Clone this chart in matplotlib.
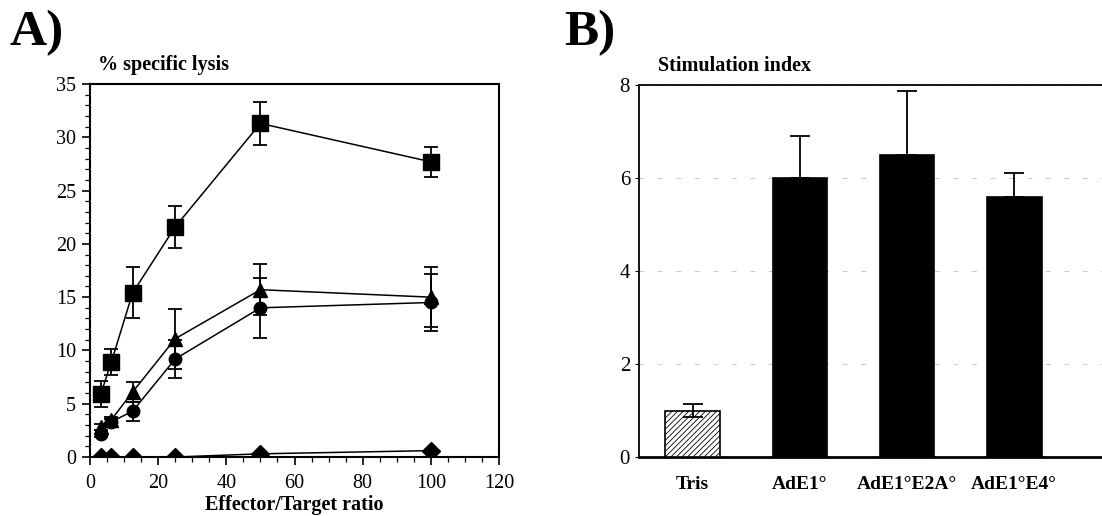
import numpy as np
import matplotlib
matplotlib.use("Agg")
import matplotlib.pyplot as plt

plt.rcParams['font.family'] = ['Liberation Serif', 'DejaVu Serif']
plt.rcParams['hatch.linewidth'] = 0.6

# panel A: lysis curves
et_ratio = [3.125, 6.25, 12.5, 25, 50, 100]
lysis_sq = [5.9, 8.9, 15.4, 21.6, 31.3, 27.7]
err_sq = [1.2, 1.2, 2.4, 2.0, 2.0, 1.4]
lysis_tri = [2.8, 3.5, 6.1, 11.1, 15.7, 15.0]
err_tri = [0.3, 0.3, 0.9, 2.8, 2.4, 2.8]
lysis_circ = [2.2, 3.3, 4.3, 9.2, 14.0, 14.5]
err_circ = [0.3, 0.3, 0.9, 1.8, 2.8, 2.7]
lysis_dia = [0.0, 0.0, 0.0, 0.0, 0.3, 0.6]

# panel B: stimulation index
groups = ['Tris', 'AdE1°', 'AdE1°E2A°', 'AdE1°E4°']
stim = [1.0, 6.0, 6.5, 5.6]
stim_err = [0.15, 0.9, 1.37, 0.5]

fig = plt.figure(figsize=(11.02, 5.16), dpi=100)

# ---- A ----
ax = fig.add_axes([0.0817, 0.1143, 0.3711, 0.7229])
series = [(lysis_sq, err_sq, 's', 12), (lysis_tri, err_tri, '^', 10.5),
          (lysis_circ, err_circ, 'o', 9), (lysis_dia, None, 'D', 9)]
for vals, err, mk, ms in series:
    ax.errorbar(et_ratio, vals, yerr=err, fmt='-' + mk, color='black',
                markersize=ms, linewidth=1.1, elinewidth=1.3, capsize=5, capthick=1.3)
ax.set_xlim(0, 120)
ax.set_ylim(0, 35)
ax.set_xticks(range(0, 121, 20))
ax.set_xticks(range(0, 121, 5), minor=True)
ax.set_yticks(range(0, 36, 5))
ax.set_yticks(range(0, 36, 1), minor=True)
ax.tick_params(which='major', direction='out', length=6, width=1.2, labelsize=14.5, pad=4)
ax.tick_params(which='minor', direction='out', length=3.5, width=0.9)
ax.tick_params(axis='x', which='major', pad=6)
for s in ax.spines.values():
    s.set_linewidth(1.5)
ax.set_xlabel('Effector/Target ratio', fontsize=14.5, fontweight='bold', labelpad=2)
ax.text(0.02, 1.025, '% specific lysis', transform=ax.transAxes, fontsize=14.5,
        fontweight='bold', va='bottom', ha='left')
fig.text(0.009, 0.913, 'A)', fontsize=37, fontweight='bold', va='baseline')

# ---- B ----
bx = fig.add_axes([0.5799, 0.1143, 0.4280, 0.7210])
pos = np.arange(len(groups))
colors = ['white', 'black', 'black', 'black']
hatches = ['//////', None, None, None]
for i in range(len(groups)):
    bx.bar(pos[i], stim[i], width=0.51, color=colors[i], edgecolor='black',
           linewidth=1.2, hatch=hatches[i], zorder=3)
bx.errorbar(pos[:1], stim[:1], yerr=stim_err[:1], fmt='none', ecolor='black',
            elinewidth=1.3, capsize=7, capthick=1.3, zorder=4)
bx.errorbar(pos[1:], stim[1:], yerr=[np.zeros(3), stim_err[1:]], fmt='none',
            ecolor='black', elinewidth=1.3, capsize=7, capthick=1.3, zorder=2)
bx.set_xlim(-0.5, 3.9)
bx.set_ylim(0, 8)
bx.set_yticks([0, 2, 4, 6, 8])
bx.set_xticks(pos)
bx.set_xticklabels(groups, fontsize=14, fontweight='bold')
bx.tick_params(axis='x', length=0, pad=14)
bx.tick_params(axis='y', direction='out', length=3, width=0.8, labelsize=15)
bx.yaxis.grid(True, color='#c8c8c8', linestyle=(0, (5, 14)), linewidth=0.7, zorder=0)
bx.spines['right'].set_visible(False)
for k in ['left', 'top']:
    bx.spines[k].set_linewidth(1.3)
bx.spines['bottom'].set_linewidth(2)
bx.text(0.04, 1.025, 'Stimulation index', transform=bx.transAxes, fontsize=14.5,
        fontweight='bold', va='bottom', ha='left')
fig.text(0.512, 0.913, 'B)', fontsize=37, fontweight='bold', va='baseline')

fig.savefig('out.png', dpi=100)
